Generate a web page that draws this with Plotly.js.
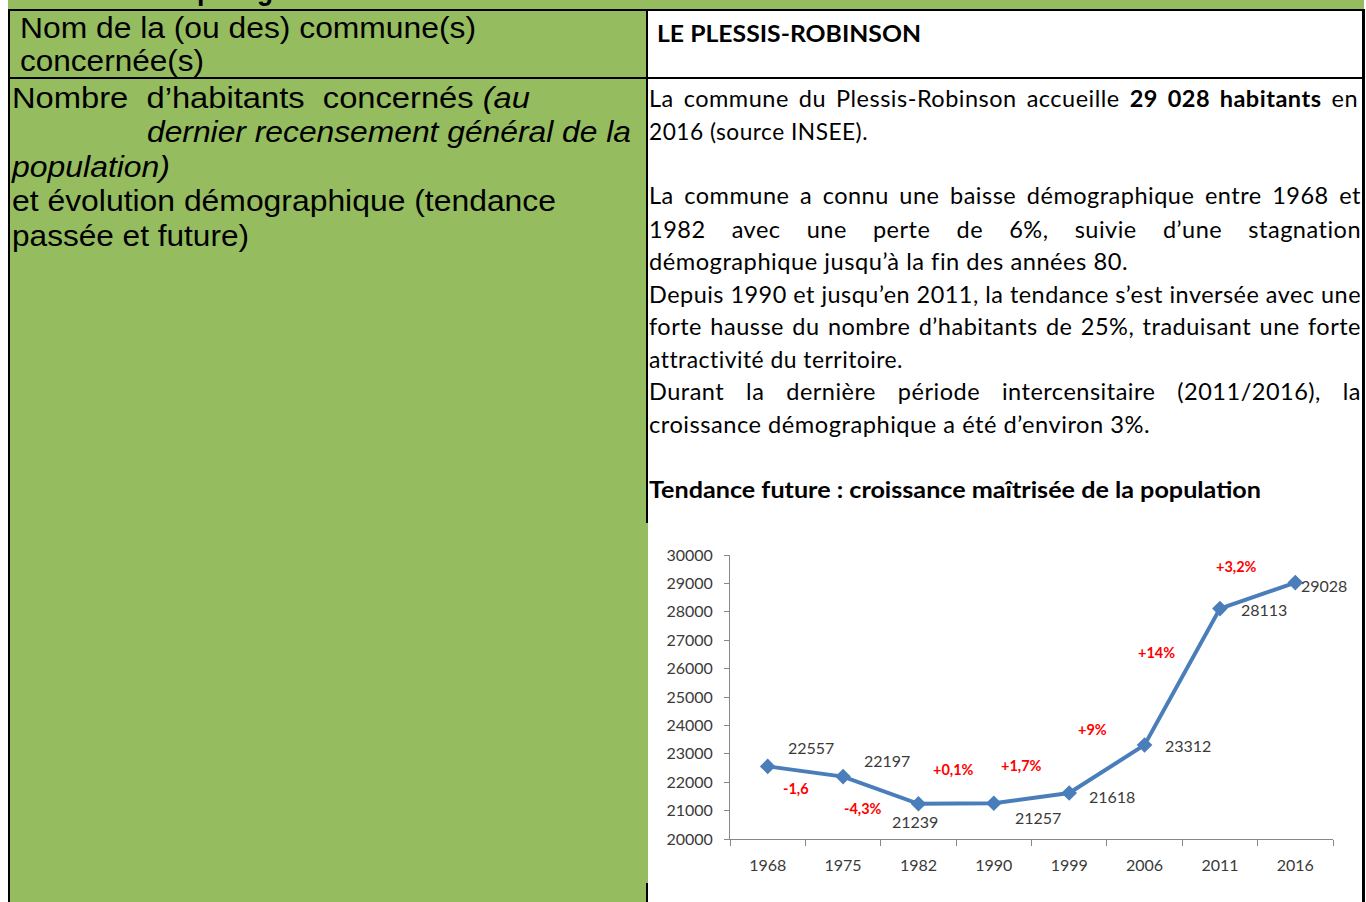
<!DOCTYPE html>
<html>
<head>
<meta charset="utf-8">
<script src="https://cdn.plot.ly/plotly-3.0.1.min.js"></script>
<style>
  html, body { margin:0; padding:0; background:#fff; }
  body { width:1366px; height:902px; overflow:hidden; position:relative; }
  .abs { position:absolute; }
  .green { background:#95bc5f; }
  .blk { background:#000; position:absolute; }
  .ln { position:absolute; white-space:pre; display:inline-block; transform-origin:0 50%; color:#000; }
  .lft { font-family:"Liberation Sans", Arial, sans-serif; font-size:29px; line-height:34px; }
  .rgt { font-family:Lato, "Open Sans", sans-serif; font-size:23.5px; line-height:30px; letter-spacing:0.5px; }
  #chart { position:absolute; left:648px; top:523px; width:714px; height:360px; background:#fff; }
</style>
</head>
<body>
<div class="abs green" style="left:8px;top:0;width:1356px;height:10px;overflow:hidden;">
  <div class="ln lft" data-w="521" style="left:6px;top:-27px;font-weight:bold;">6. Caractéristiques générales du territoire</div>
</div>
<div class="abs green" style="left:8px;top:9px;width:640px;height:893px;"></div>

<!-- borders -->
<div class="blk" style="left:8px;top:9px;width:1357px;height:2px;"></div>
<div class="blk" style="left:8px;top:77px;width:1357px;height:2px;"></div>
<div class="blk" style="left:8px;top:9px;width:2px;height:893px;"></div>
<div class="blk" style="left:646px;top:9px;width:2px;height:514px;"></div>
<div class="blk" style="left:646px;top:883px;width:2px;height:19px;"></div>

<div id="chart"></div>
<div class="blk" style="left:1362px;top:9px;width:3px;height:893px;"></div>

<!-- left column text -->
<div class="ln lft" data-w="456" data-cy="28" style="left:20px;">Nom de la (ou des) commune(s)</div>
<div class="ln lft" data-w="184" data-cy="61" style="left:20px;">concernée(s)</div>
<div class="ln lft" data-w="518" data-cy="98" style="left:12px;">Nombre  d’habitants  concernés <i>(au</i></div>
<div class="ln lft" data-w="484" data-cy="132" style="left:147px;"><i>dernier recensement général de la</i></div>
<div class="ln lft" data-w="158" data-cy="167" style="left:12px;"><i>population)</i></div>
<div class="ln lft" data-w="544" data-cy="201" style="left:12px;">et évolution démographique (tendance</div>
<div class="ln lft" data-w="237" data-cy="236" style="left:12px;">passée et future)</div>

<!-- right column text -->
<div class="ln rgt" data-w="264" data-cy="33" style="left:657px;font-weight:bold;letter-spacing:0;">LE PLESSIS-ROBINSON</div>
<div class="ln rgt" data-w="709" data-j="1" data-cy="98" style="left:649px;">La commune du Plessis-Robinson accueille <b>29 028 habitants</b> en</div>
<div class="ln rgt" data-w="219" data-cy="131" style="left:649px;">2016 (source INSEE).</div>
<div class="ln rgt" data-w="712" data-j="1" data-cy="195" style="left:649px;">La commune a connu une baisse démographique entre 1968 et</div>
<div class="ln rgt" data-w="712" data-j="1" data-cy="229" style="left:649px;">1982 avec une perte de 6%, suivie d’une stagnation</div>
<div class="ln rgt" data-w="479" data-cy="261" style="left:649px;">démographique jusqu’à la fin des années 80.</div>
<div class="ln rgt" data-w="712" data-j="1" data-cy="294" style="left:649px;">Depuis 1990 et jusqu’en 2011, la tendance s’est inversée avec une</div>
<div class="ln rgt" data-w="712" data-j="1" data-cy="326" style="left:649px;">forte hausse du nombre d’habitants de 25%, traduisant une forte</div>
<div class="ln rgt" data-w="254" data-cy="359" style="left:649px;">attractivité du territoire.</div>
<div class="ln rgt" data-w="712" data-j="1" data-cy="391" style="left:649px;">Durant la dernière période intercensitaire (2011/2016), la</div>
<div class="ln rgt" data-w="501" data-cy="424" style="left:649px;">croissance démographique a été d’environ 3%.</div>
<div class="ln rgt" data-w="612" data-cy="489" style="left:649px;font-weight:bold;letter-spacing:0;">Tendance future : croissance maîtrisée de la population</div>

<script>
// ---- data ----
const years = ["1968", "1975", "1982", "1990", "1999", "2006", "2011", "2016"];
const population = [22557, 22197, 21239, 21257, 21618, 23312, 28113, 29028];
const changeLabels = ["-1,6", "-4,3%", "+0,1%", "+1,7%", "+9%", "+14%", "+3,2%"];
const yTicks = [20000, 21000, 22000, 23000, 24000, 25000, 26000, 27000, 28000, 29000, 30000];

// ---- text fitting ----
document.querySelectorAll('.ln').forEach(el => {
  const tw = +el.dataset.w;
  const nat = el.getBoundingClientRect().width;
  if (el.dataset.j && nat < tw) {
    el.style.whiteSpace = 'normal';
    el.style.width = tw + 'px';
    el.style.textAlign = 'justify';
    el.style.textAlignLast = 'justify';
  } else {
    el.style.transform = 'scaleX(' + (tw / nat) + ')';
  }
  if (el.dataset.cy) {
    const lh = parseFloat(getComputedStyle(el).lineHeight);
    el.style.top = (+el.dataset.cy - lh / 2) + 'px';
  }
});

// ---- chart ----
const blue = '#4a7ebb';
const dataLabelShift = [[43, 19], [44, 16], [-3, -18], [44, -14], [43, -3], [43, -1], [44, -1], [29, -3]];
const changeShift = [[-9, -17], [-18, -18], [-3, 34], [-10, 33], [-14, 39], [-26, 24], [-21, 29]];

const annotations = [];
population.forEach((v, i) => {
  annotations.push({
    x: i, y: v, text: String(v), showarrow: false,
    xshift: dataLabelShift[i][0], yshift: dataLabelShift[i][1],
    font: {family: 'Lato, sans-serif', size: 16, color: '#3a3a3a'}
  });
});
changeLabels.forEach((t, i) => {
  annotations.push({
    x: i + 0.5, y: (population[i] + population[i + 1]) / 2, text: '<b>' + t + '</b>', showarrow: false,
    xshift: changeShift[i][0], yshift: changeShift[i][1],
    font: {family: 'Lato, sans-serif', size: 14.5, color: '#ff0000'}
  });
});

Plotly.newPlot('chart', [{
  x: years, y: population, type: 'scatter', mode: 'lines+markers',
  line: {color: blue, width: 4},
  marker: {symbol: 'diamond', size: 12, color: blue},
  hoverinfo: 'skip'
}], {
  width: 714, height: 360,
  margin: {l: 82, r: 29, t: 32, b: 44},
  paper_bgcolor: '#fff', plot_bgcolor: '#fff',
  showlegend: false,
  font: {family: 'Lato, sans-serif', size: 16, color: '#3a3a3a'},
  xaxis: {
    type: 'category', categoryorder: 'array', categoryarray: years,
    range: [-0.5, years.length - 0.5], autorange: false,
    tickson: 'boundaries', ticks: 'outside', ticklen: 6, tickcolor: '#888',
    showline: true, linecolor: '#888', linewidth: 1, showgrid: false, zeroline: false,
    ticklabelstandoff: 12, fixedrange: true
  },
  yaxis: {
    range: [20000, 30000], autorange: false, tickvals: yTicks, tickformat: 'd', ticks: 'outside', ticklen: 5, tickcolor: '#888',
    showline: true, linecolor: '#888', linewidth: 1, showgrid: false, zeroline: false,
    ticklabelstandoff: 8, fixedrange: true
  },
  annotations: annotations
}, {displayModeBar: false, staticPlot: true});
</script>
</body>
</html>
